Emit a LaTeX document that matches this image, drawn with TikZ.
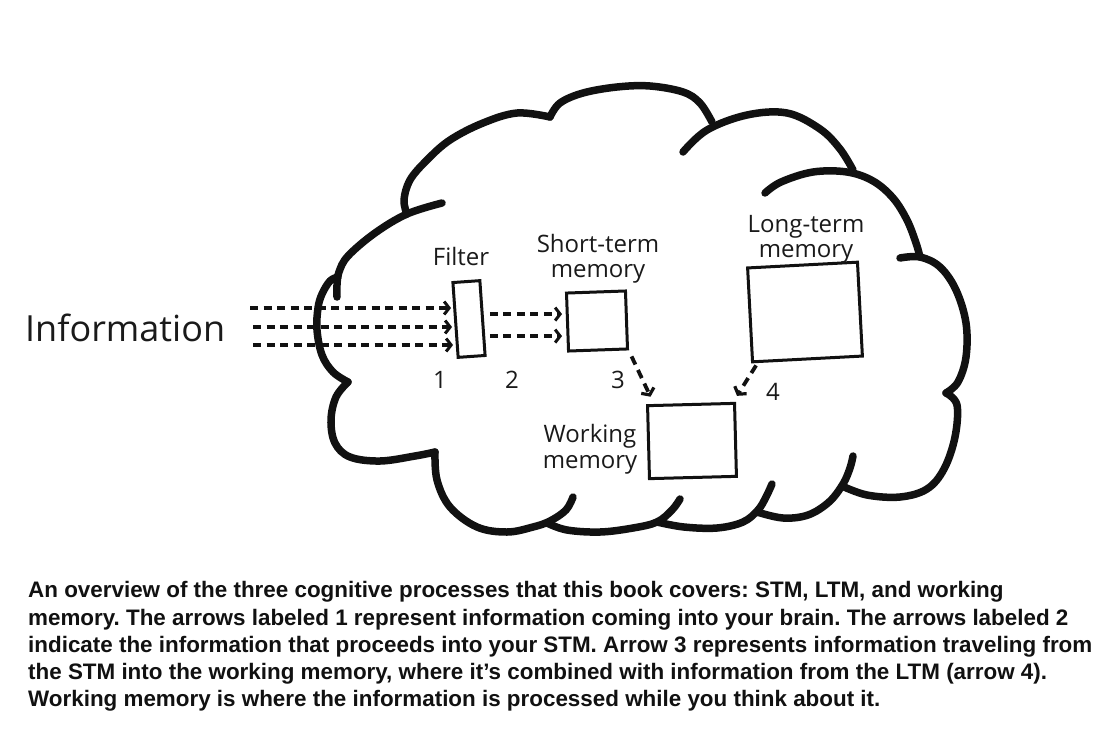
\documentclass[tikz,border=0pt]{standalone}
\usepackage{fontspec}
\setmainfont{Open Sans}
\newfontfamily\capfont{Liberation Sans}
\usetikzlibrary{arrows.meta}
\definecolor{ink}{HTML}{111111}
\definecolor{txt}{HTML}{1A1A1A}
\frenchspacing
\begin{document}
\begin{tikzpicture}[x=1pt,y=-1pt,
  cloudline/.style={draw=ink, line width=7.5pt, line cap=round, line join=round},
  boxnode/.style={draw=ink, line width=3pt, inner sep=0pt, rectangle},
  lbl/.style={font=\fontsize{24}{25}\selectfont, align=center, inner sep=0pt, text=txt},
  numlbl/.style={font=\fontsize{24}{25}\selectfont, inner sep=0pt, text=txt},
  caplbl/.style={font=\capfont\bfseries\fontsize{22.4}{27}\selectfont, inner sep=0pt, anchor=base west, text=ink},
  inarrow/.style={draw=ink, line width=3.3pt, dash pattern=on 8pt off 5.5pt,
    -{Straight Barb[length=5pt,width=13pt,line width=3pt]}},
  diagarrow/.style={draw=ink, line width=3.8pt, dash pattern=on 9pt off 6pt,
    -{Straight Barb[length=5pt,width=14pt,line width=3.2pt]}}
]
\useasboundingbox[fill=white] (0,0) rectangle (1105,734);

% ---------- cloud outline ----------
\draw[cloudline] plot[smooth, tension=0.6] coordinates {(442,203) (407,214) (375,233) (348,256) (339,272) (337,285) (337,297)};
\draw[cloudline] plot[smooth, tension=0.6] coordinates {(338,277) (330,281) (322,294) (318,308) (317,330) (322,355) (333,372) (348,382)};
\draw[cloudline] plot[smooth, tension=0.6] coordinates {(348,382) (336,397) (331,420) (335,443) (350,457) (380,461) (415,456) (435,452)};
\draw[cloudline] plot[smooth, tension=0.6] coordinates {(435,452) (437,480) (450,507) (477,527) (507,532) (533,527) (550,521) (566,510) (573,497)};
\draw[cloudline] plot[smooth, tension=0.6] coordinates {(547,523) (567,530) (600,532) (633,528) (657,522) (672,510) (680,499)};
\draw[cloudline] plot[smooth, tension=0.6] coordinates {(657,522) (684,527) (717,528) (743,522) (758,510) (766,497) (772,484)};
\draw[cloudline] plot[smooth, tension=0.6] coordinates {(757,512) (783,518) (808,515) (829,502) (843,484) (850,468) (853,456)};
\draw[cloudline] plot[smooth, tension=0.6] coordinates {(842,486) (867,495) (900,497) (927,489) (944,469) (955,437) (957,405) (946,393)};
\draw[cloudline] plot[smooth, tension=0.6] coordinates {(900,258) (920,257) (940,267) (956,290) (966,323) (966,357) (958,382) (946,393)};
\draw[cloudline] plot[smooth, tension=0.6] coordinates {(765,193) (781,182) (813,172) (847,172) (873,181) (893,198) (907,220) (916,243) (920,257)};
\draw[cloudline] plot[smooth, tension=0.6] coordinates {(683,152) (707,130) (747,115) (787,113) (820,129) (840,149) (853,170)};
\draw[cloudline] plot[smooth, tension=0.6] coordinates {(550,117) (560,103) (583,93) (617,87) (650,86) (683,92) (700,103) (712,122)};
\draw[cloudline] plot[smooth, tension=0.6] coordinates {(407,214) (404,200) (410,180) (427,160) (450,140) (483,123) (517,113) (550,117)};

% ---------- boxes ----------
\node[boxnode, minimum width=27pt, minimum height=75pt, rotate=4] (filter) at (469,319) {};
\node[boxnode, minimum width=59pt, minimum height=58pt, rotate=2] (stm) at (597,321) {};
\node[boxnode, minimum width=110pt, minimum height=94pt, rotate=3] (ltm) at (805,312) {};
\node[boxnode, minimum width=87pt, minimum height=73pt, rotate=1.5] (wm) at (692,441) {};

% ---------- labels ----------
\node[font=\fontsize{36}{40}\selectfont, inner sep=0pt, anchor=base west, text=txt] (info) at (25,341) {Information};
\node[lbl, anchor=base] (filterlbl) at (461,265) {Filter};
\node[lbl, anchor=base] (stmlbl) at (598,277) {Short-term\\memory};
\node[lbl, anchor=base] (ltmlbl) at (806,257) {Long-term\\memory};
\node[lbl, anchor=base, font=\fontsize{24}{26}\selectfont] (wmlbl) at (590,468) {Working\\memory};
\node[numlbl, anchor=base] (n1) at (440,388) {1};
\node[numlbl, anchor=base] (n2) at (512,388) {2};
\node[numlbl, anchor=base] (n3) at (618,388) {3};
\node[numlbl, anchor=base] (n4) at (773,400) {4};

% ---------- connectors ----------
\coordinate (in1) at (250,308);
\coordinate (in2) at (253,327);
\coordinate (in3) at (253,345);
\draw[inarrow, shorten >=3pt] (in1) -- (in1 -| filter.west);
\draw[inarrow, shorten >=2pt] (in2) -- (in2 -| filter.west);
\draw[inarrow, shorten >=1pt] (in3) -- (in3 -| filter.west);
\coordinate (s2a) at ([yshift=8pt]stm.west);
\coordinate (s2b) at ([yshift=-14pt]stm.west);
\draw[inarrow, shorten <=6pt, shorten >=4pt] (filter.east |- s2a) -- (s2a);
\draw[inarrow, shorten <=6pt, shorten >=4pt] (filter.east |- s2b) -- (s2b);
\draw[diagarrow] ([shift={(2.5,6)}]stm.south east) -- ([shift={(4.5,-7.5)}]wm.north west);
\draw[diagarrow] ([shift={(5,2)}]ltm.south west) -- ([shift={(1,-6)}]wm.north east);

% ---------- caption ----------
\node[caplbl] (cap1) at (28,597.5) {An overview of the three cognitive processes that this book covers: STM, LTM, and working};
\node[caplbl] (cap2) at (28,625) {memory. The arrows labeled 1 represent information coming into your brain. The arrows labeled 2};
\node[caplbl] (cap3) at (28,652) {indicate the information that proceeds into your STM. Arrow 3 represents information traveling from};
\node[caplbl] (cap4) at (28,679) {the STM into the working memory, where it’s combined with information from the LTM (arrow 4).};
\node[caplbl] (cap5) at (28,706.5) {Working memory is where the information is processed while you think about it.};
\end{tikzpicture}
\end{document}
